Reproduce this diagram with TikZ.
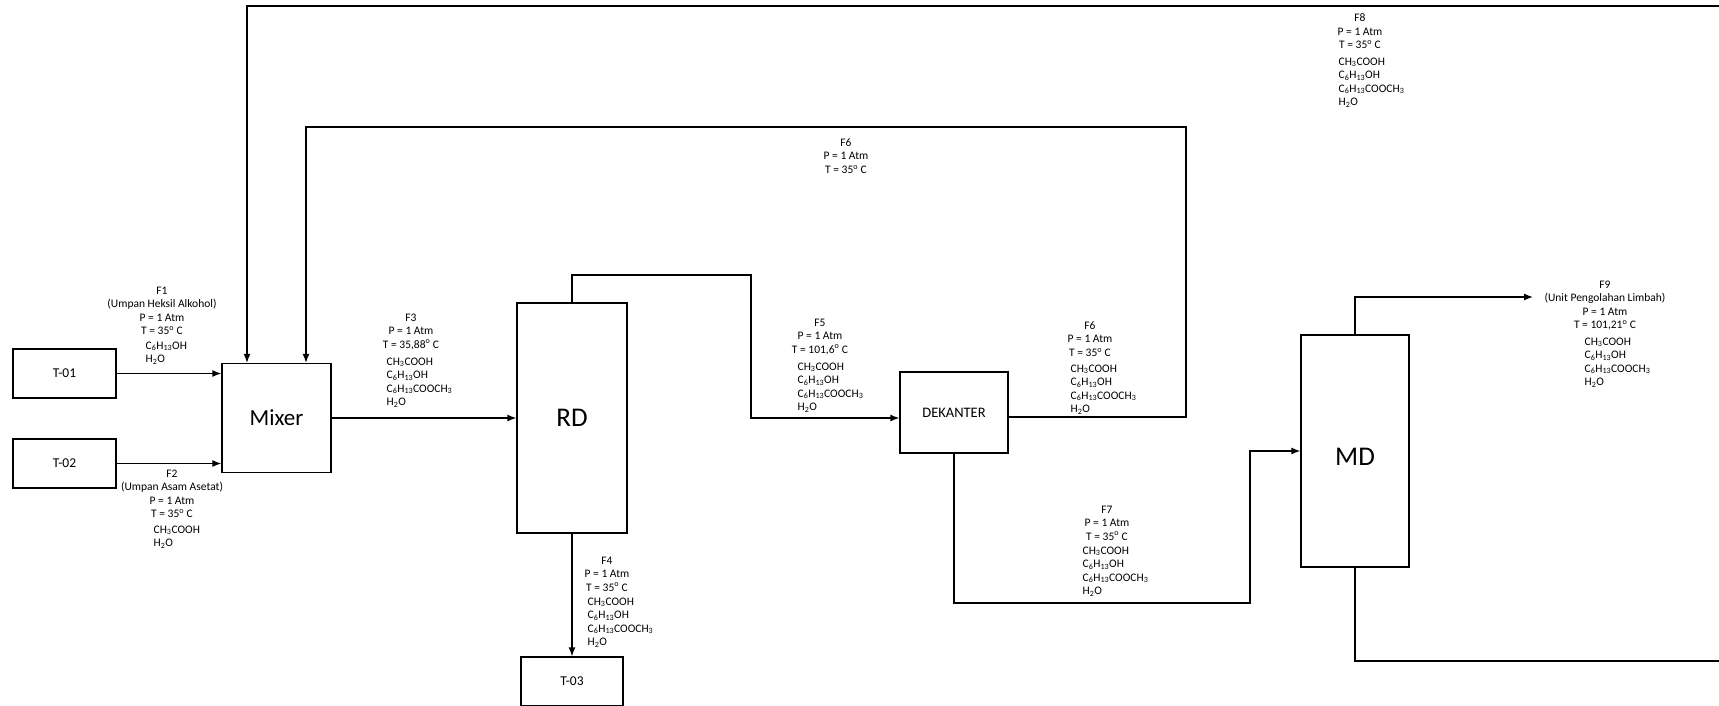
\documentclass[tikz,border=0pt]{standalone}
\usepackage{fontspec}
\setmainfont{Carlito}
\usetikzlibrary{positioning, arrows.meta}
\tikzstyle{block}=[draw,rectangle,inner sep=0pt]
\tikzstyle{every node}=[font=\fontsize{11.5}{13.5}\selectfont]
\tikzstyle{info}=[inner sep=0pt,align=center,anchor=north]
\tikzstyle{komp}=[inner sep=0pt,align=left,anchor=north west]
\newcommand{\asetat}{CH\textsubscript{3}COOH}
\newcommand{\heksanol}{C\textsubscript{6}H\textsubscript{13}OH}
\newcommand{\ester}{C\textsubscript{6}H\textsubscript{13}COOCH\textsubscript{3}}
\newcommand{\air}{H\textsubscript{2}O}
\newcommand{\suhu}[1]{T = #1\textsuperscript{o} C}

\begin{document}
\begin{tikzpicture}[>={Latex[length=9pt,width=7pt]}, x=1pt, y=-1pt, line width=1.3pt]
    \useasboundingbox (0,0) rectangle (1719,705);
    \node[block, minimum width=103, minimum height=49, font=\fontsize{13.5}{15}\selectfont] (t01) at (64.5,373.5) {T-01};
    \node[block, minimum width=103, minimum height=49, font=\fontsize{13.5}{15}\selectfont] (t02) at (64.5,463.5) {T-02};
    \node[block, minimum width=109, minimum height=109, font=\fontsize{23}{27}\selectfont] (mixer) at (276.5,418) {Mixer};
    \node[block, minimum width=110, minimum height=230, font=\fontsize{27}{32}\selectfont] (rd) at (572,418) {RD};
    \node[block, minimum width=102, minimum height=49, font=\fontsize{13.5}{15}\selectfont] (t03) at (572,681.5) {T-03};
    \node[block, minimum width=108, minimum height=81, font=\fontsize{14.5}{17}\selectfont] (dek) at (954,412.5) {DEKANTER};
    \node[block, minimum width=108, minimum height=232, text height=28, font=\fontsize{27}{32}\selectfont] (md) at (1355,451) {MD};
    \coordinate (f5a) at (751,275);
    \coordinate (f5b) at (751,418);
    \coordinate (f6a) at (1186,417);
    \coordinate (f6b) at (306,127);
    \coordinate (f7a) at (1250,603);
    \coordinate (f8a) at (1719,661);
    \coordinate (f8b) at (1719,6);
    \coordinate (f8c) at (247,6);
    \coordinate (f9a) at (1533,297);
    \draw[->] (t01) -- (t01 -| mixer.west);
    \draw[->] (t02) -- (t02 -| mixer.west);
    \draw[->] (mixer) -- (rd);
    \draw[->] (rd) -- (t03);
    \draw[->] (rd.north) |- (f5a) -- (f5b) -- (f5b -| dek.west);
    \draw[->] (f6a -| dek.east) -- (f6a) |- (f6b) -- (f6b |- mixer.north);
    \draw[->] (dek.south) |- (f7a) |- (md.west);
    \draw (md.south) |- (f8a);
    \draw[->] (f8b) -- (f8c) -- (f8c |- mixer.north);
    \draw[->] (md.north) |- (f9a);
    \node[info] (lblF1) at (162,286) {F1\\(Umpan Heksil Alkohol)\\P = 1 Atm\\\suhu{35}};
    \node[komp] (cmpF1) at (145,341) {\heksanol\\\air};
    \node[info] (lblF2) at (172,469) {F2\\(Umpan Asam Asetat)\\P = 1 Atm\\\suhu{35}};
    \node[komp] (cmpF2) at (153,525) {\asetat\\\air};
    \node[info] (lblF3) at (411,313) {F3\\P = 1 Atm\\\suhu{35,88}};
    \node[komp] (cmpF3) at (386,357) {\asetat\\\heksanol\\\ester\\\air};
    \node[info] (lblF4) at (607,556) {F4\\P = 1 Atm\\\suhu{35}};
    \node[komp] (cmpF4) at (587,597) {\asetat\\\heksanol\\\ester\\\air};
    \node[info] (lblF5) at (820,318) {F5\\P = 1 Atm\\\suhu{101,6}};
    \node[komp] (cmpF5) at (797,362) {\asetat\\\heksanol\\\ester\\\air};
    \node[info] (lblF6) at (1090,321) {F6\\P = 1 Atm\\\suhu{35}};
    \node[komp] (cmpF6) at (1070,364) {\asetat\\\heksanol\\\ester\\\air};
    \node[info] (lblF6b) at (846,138) {F6\\P = 1 Atm\\\suhu{35}};
    \node[info] (lblF7) at (1107,505) {F7\\P = 1 Atm\\\suhu{35}};
    \node[komp] (cmpF7) at (1082,546) {\asetat\\\heksanol\\\ester\\\air};
    \node[info] (lblF8) at (1360,13) {F8\\P = 1 Atm\\\suhu{35}};
    \node[komp] (cmpF8) at (1338,57) {\asetat\\\heksanol\\\ester\\\air};
    \node[info] (lblF9) at (1605,280) {F9\\(Unit Pengolahan Limbah)\\P = 1 Atm\\\suhu{101,21}};
    \node[komp] (cmpF9) at (1584,337) {\asetat\\\heksanol\\\ester\\\air};
\end{tikzpicture}
\end{document}
